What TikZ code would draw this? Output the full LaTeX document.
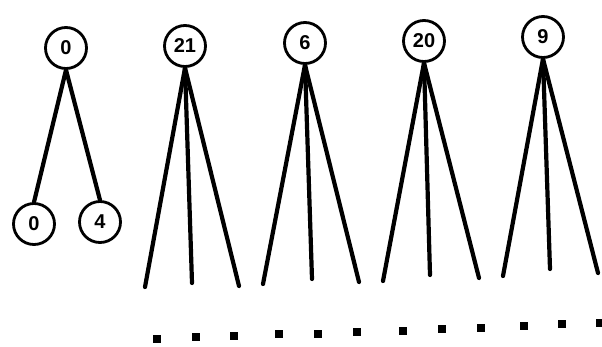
\documentclass[tikz,border=0pt]{standalone}
\usepackage{fontspec}
\setmainfont{Liberation Sans}
\usetikzlibrary{positioning}
\tikzset{
	keynode/.style={
		circle, draw=black, line width=2.8pt,
		minimum size=41pt, inner sep=0pt,
		font=\fontsize{20}{20}\selectfont\bfseries
	},
	edge/.style={
		line width=4.2pt, line cap=round, color=black
	},
	dotbox/.style={
		rectangle, fill=black, minimum size=8.5pt, inner sep=0pt
	}
}
\begin{document}
\begin{tikzpicture}[x=1pt, y=-1pt]
	\useasboundingbox (0,0) rectangle (602,346);
	%% ═══════════════════════════════
	%%  LEFT TREE — root 0 with children 0 and 4
	%% ═══════════════════════════════
	\node[keynode] (root) at (66,48) {0};
	\node[keynode] (kid0) at (34,224) {0};
	\node[keynode] (kid4) at (100,222) {4};
	
	%% ═══════════════════════════════
	%%  TOP ROW — the other keys
	%% ═══════════════════════════════
	\node[keynode] (k21) at (185,46) {21};
	\node[keynode] (k6)  at (305,43) {6};
	\node[keynode] (k20) at (424,41) {20};
	\node[keynode] (k9)  at (543,37) {9};
	
	%% free ends of the fans
	\coordinate (k21a) at (145,287);
	\coordinate (k21b) at (192,283);
	\coordinate (k21c) at (239,286);
	\coordinate (k6a)  at (263,284);
	\coordinate (k6b)  at (312,279);
	\coordinate (k6c)  at (359,282);
	\coordinate (k20a) at (383,281);
	\coordinate (k20b) at (430,275);
	\coordinate (k20c) at (479,278);
	\coordinate (k9a)  at (503,276);
	\coordinate (k9b)  at (550,269);
	\coordinate (k9c)  at (598,273);
	
	%% ═══════════════════════════════
	%%  BOTTOM ROW — dots
	%% ═══════════════════════════════
	\node[dotbox] (d1)  at (157,339) {};
	\node[dotbox] (d2)  at (196,337) {};
	\node[dotbox] (d3)  at (234,336) {};
	\node[dotbox] (d4)  at (279,334) {};
	\node[dotbox] (d5)  at (318,334) {};
	\node[dotbox] (d6)  at (357,332) {};
	\node[dotbox] (d7)  at (403,331) {};
	\node[dotbox] (d8)  at (442,329) {};
	\node[dotbox] (d9)  at (481,328) {};
	\node[dotbox] (d10) at (524,326) {};
	\node[dotbox] (d11) at (562,324) {};
	\node[dotbox] (d12) at (600,323) {};
	
	%% ═══════════════════════════════
	%%  EDGES
	%% ═══════════════════════════════
	
	% root → children
	\draw[edge] (root.south) -- (kid0.north);
	\draw[edge] (root.south) -- (kid4.north);
	
	% fans
	\draw[edge] (k21.south) -- (k21a);
	\draw[edge] (k21.south) -- (k21b);
	\draw[edge] (k21.south) -- (k21c);
	\draw[edge] (k6.south) -- (k6a);
	\draw[edge] (k6.south) -- (k6b);
	\draw[edge] (k6.south) -- (k6c);
	\draw[edge] (k20.south) -- (k20a);
	\draw[edge] (k20.south) -- (k20b);
	\draw[edge] (k20.south) -- (k20c);
	\draw[edge] (k9.south) -- (k9a);
	\draw[edge] (k9.south) -- (k9b);
	\draw[edge] (k9.south) -- (k9c);
	
\end{tikzpicture}
\end{document}
